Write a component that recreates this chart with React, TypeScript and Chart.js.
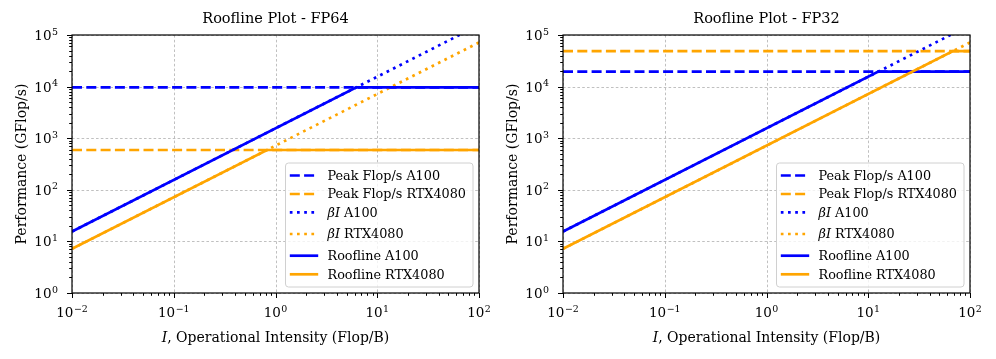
import React, { useEffect, useRef } from "react";
import { Chart, registerables } from "chart.js";
Chart.register(...registerables);

// ---- data ----
const devices = ["A100", "RTX4080"];
const deviceColors = ["#0000ff", "#ffa500"];
const bandwidthGBs = [1555, 716.8]; // beta, GB/s
const peakFP64 = [9700, 590]; // GFlop/s
const peakFP32 = [19500, 48700]; // GFlop/s
const intensityRange = [0.01, 100];
const perfRange = [1, 100000];
const xTickExps = [-2, -1, 0, 1, 2];
const yTickExps = [0, 1, 2, 3, 4, 5];
const panelTitles = ["Roofline Plot - FP64", "Roofline Plot - FP32"];

const FONT = "'DejaVu Serif', serif";
const FS_TITLE = 14.5;
const FS_LABEL = 14;
const FS_TICK = 13.5;
const FS_LEG = 12.8;
const LW = 2.7;
const DASH = [10, 4.3];
const DOT = [2.7, 4.5];

type Entry = { label: string; math: boolean; color: string; dash: number[] };

function buildDatasets(peaks: number[]) {
  const ds: any[] = [];
  const entries: Entry[] = [];
  const [x0, x1] = intensityRange;
  devices.forEach((d, i) => {
    ds.push({
      label: "Peak Flop/s " + d,
      data: [{ x: x0, y: peaks[i] }, { x: x1, y: peaks[i] }],
      borderColor: deviceColors[i],
      borderDash: DASH,
    });
    entries.push({ label: "Peak Flop/s " + d, math: false, color: deviceColors[i], dash: DASH });
  });
  devices.forEach((d, i) => {
    ds.push({
      label: "βI " + d,
      data: [{ x: x0, y: bandwidthGBs[i] * x0 }, { x: x1, y: bandwidthGBs[i] * x1 }],
      borderColor: deviceColors[i],
      borderDash: DOT,
    });
    entries.push({ label: d, math: true, color: deviceColors[i], dash: DOT });
  });
  devices.forEach((d, i) => {
    const ridge = peaks[i] / bandwidthGBs[i];
    ds.push({
      label: "Roofline " + d,
      data: [
        { x: x0, y: bandwidthGBs[i] * x0 },
        { x: ridge, y: peaks[i] },
        { x: x1, y: peaks[i] },
      ],
      borderColor: deviceColors[i],
      borderDash: [],
    });
    entries.push({ label: "Roofline " + d, math: false, color: deviceColors[i], dash: [] });
  });
  const n = ds.length;
  ds.forEach((d, k) => {
    d.order = n - k;
    d.borderWidth = LW;
    d.pointRadius = 0;
    d.fill = false;
    d.tension = 0;
    d.clip = 0;
    d.borderCapStyle = "butt";
  });
  return { ds, entries };
}

function drawPow(ctx: CanvasRenderingContext2D, exp: number, x: number, y: number, align: "right" | "center") {
  const base = "10";
  const sup = exp < 0 ? "\u2212" + Math.abs(exp) : String(exp);
  ctx.font = `${FS_TICK}px ${FONT}`;
  const wb = ctx.measureText(base).width;
  ctx.font = `${FS_TICK * 0.7}px ${FONT}`;
  const ws = ctx.measureText(sup).width;
  const total = wb + ws + 0.5;
  const start = align === "right" ? x - total : x - total / 2;
  ctx.textAlign = "left";
  ctx.textBaseline = "alphabetic";
  ctx.fillStyle = "#000";
  ctx.font = `${FS_TICK}px ${FONT}`;
  ctx.fillText(base, start, y);
  ctx.font = `${FS_TICK * 0.7}px ${FONT}`;
  ctx.fillText(sup, start + wb + 0.5, y - 5.5);
}

function makePlugin(title: string, entries: Entry[]) {
  return {
    id: "mplStyle",
    beforeDatasetsDraw(chart: any) {
      const { ctx, chartArea: a, scales } = chart;
      const xs = scales.x, ys = scales.y;
      ctx.save();
      ctx.strokeStyle = "#b0b0b0";
      ctx.lineWidth = 0.8;
      ctx.setLineDash([2.6, 2.2]);
      xTickExps.forEach((e) => {
        const px = Math.round(xs.getPixelForValue(Math.pow(10, e))) + 0.5;
        ctx.beginPath();
        ctx.moveTo(px, a.top);
        ctx.lineTo(px, a.bottom);
        ctx.stroke();
      });
      yTickExps.forEach((e) => {
        const py = Math.round(ys.getPixelForValue(Math.pow(10, e))) + 0.5;
        ctx.beginPath();
        ctx.moveTo(a.left, py);
        ctx.lineTo(a.right, py);
        ctx.stroke();
      });
      ctx.restore();
    },
    afterDatasetsDraw(chart: any) {
      const { ctx, chartArea: a, scales } = chart;
      const xs = scales.x, ys = scales.y;
      ctx.save();
      ctx.setLineDash([]);
      // ticks
      ctx.strokeStyle = "#000";
      ctx.lineWidth = 1;
      for (let e = xTickExps[0]; e <= xTickExps[xTickExps.length - 1]; e++) {
        for (let m = 1; m <= 9; m++) {
          const v = m * Math.pow(10, e);
          if (v < intensityRange[0] || v > intensityRange[1]) continue;
          const px = Math.round(xs.getPixelForValue(v)) + 0.5;
          const len = m === 1 ? 5 : 2.8;
          ctx.beginPath();
          ctx.moveTo(px, a.bottom);
          ctx.lineTo(px, a.bottom + len);
          ctx.stroke();
        }
      }
      for (let e = yTickExps[0]; e <= yTickExps[yTickExps.length - 1]; e++) {
        for (let m = 1; m <= 9; m++) {
          const v = m * Math.pow(10, e);
          if (v < perfRange[0] || v > perfRange[1]) continue;
          const py = Math.round(ys.getPixelForValue(v)) + 0.5;
          const len = m === 1 ? 5 : 2.8;
          ctx.beginPath();
          ctx.moveTo(a.left, py);
          ctx.lineTo(a.left - len, py);
          ctx.stroke();
        }
      }
      // spines
      ctx.lineWidth = 1.2;
      ctx.strokeRect(a.left, a.top, a.right - a.left, a.bottom - a.top);
      // tick labels
      xTickExps.forEach((e) => {
        const px = xs.getPixelForValue(Math.pow(10, e));
        drawPow(ctx, e, px, a.bottom + 24, "center");
      });
      yTickExps.forEach((e) => {
        const py = ys.getPixelForValue(Math.pow(10, e));
        drawPow(ctx, e, a.left - 14, py + 5, "right");
      });
      // title
      ctx.fillStyle = "#000";
      ctx.textAlign = "center";
      ctx.textBaseline = "alphabetic";
      ctx.font = `${FS_TITLE}px ${FONT}`;
      ctx.fillText(title, (a.left + a.right) / 2, 23);
      // x label
      const rest = ", Operational Intensity (Flop/B)";
      ctx.font = `italic ${FS_LABEL}px ${FONT}`;
      const wI = ctx.measureText("I").width;
      ctx.font = `${FS_LABEL}px ${FONT}`;
      const wR = ctx.measureText(rest).width;
      const sx = (a.left + a.right) / 2 - (wI + wR) / 2;
      ctx.textAlign = "left";
      ctx.font = `italic ${FS_LABEL}px ${FONT}`;
      ctx.fillText("I", sx, a.bottom + 49);
      ctx.font = `${FS_LABEL}px ${FONT}`;
      ctx.fillText(rest, sx + wI, a.bottom + 49);
      // y label
      ctx.save();
      ctx.translate(a.left - 46, (a.top + a.bottom) / 2);
      ctx.rotate(-Math.PI / 2);
      ctx.textAlign = "center";
      ctx.font = `${FS_LABEL}px ${FONT}`;
      ctx.fillText("Performance (GFlop/s)", 0, 0);
      ctx.restore();
      // legend
      let maxW = 0;
      entries.forEach((en) => {
        let w;
        if (en.math) {
          ctx.font = `italic ${FS_LEG}px ${FONT}`;
          w = ctx.measureText("βI").width;
          ctx.font = `${FS_LEG}px ${FONT}`;
          w += ctx.measureText(" " + en.label).width;
        } else {
          ctx.font = `${FS_LEG}px ${FONT}`;
          w = ctx.measureText(en.label).width;
        }
        maxW = Math.max(maxW, w);
      });
      const boxW = 42 + maxW + 7;
      const boxH = 124;
      const bx = a.right - 6 - boxW;
      const by = a.bottom - 6 - boxH;
      const r = 3;
      ctx.beginPath();
      ctx.moveTo(bx + r, by);
      ctx.lineTo(bx + boxW - r, by);
      ctx.quadraticCurveTo(bx + boxW, by, bx + boxW, by + r);
      ctx.lineTo(bx + boxW, by + boxH - r);
      ctx.quadraticCurveTo(bx + boxW, by + boxH, bx + boxW - r, by + boxH);
      ctx.lineTo(bx + r, by + boxH);
      ctx.quadraticCurveTo(bx, by + boxH, bx, by + boxH - r);
      ctx.lineTo(bx, by + r);
      ctx.quadraticCurveTo(bx, by, bx + r, by);
      ctx.closePath();
      ctx.fillStyle = "rgba(255,255,255,0.8)";
      ctx.fill();
      ctx.strokeStyle = "#d0d0d0";
      ctx.lineWidth = 1;
      ctx.stroke();
      const rowOffsets = [111.5, 93, 74.7, 53, 31.3, 12.7];
      entries.forEach((en, k) => {
        const ry = by + boxH - rowOffsets[k];
        ctx.strokeStyle = en.color;
        ctx.lineWidth = LW;
        ctx.lineCap = "butt";
        ctx.setLineDash(en.dash);
        ctx.beginPath();
        ctx.moveTo(bx + 4.3, ry);
        ctx.lineTo(bx + 32.7, ry);
        ctx.stroke();
        ctx.setLineDash([]);
        ctx.fillStyle = "#000";
        ctx.textAlign = "left";
        ctx.textBaseline = "middle";
        const tx = bx + 42;
        if (en.math) {
          ctx.font = `italic ${FS_LEG}px ${FONT}`;
          ctx.fillText("βI", tx, ry + 1);
          const w = ctx.measureText("βI").width;
          ctx.font = `${FS_LEG}px ${FONT}`;
          ctx.fillText(" " + en.label, tx + w, ry + 1);
        } else {
          ctx.font = `${FS_LEG}px ${FONT}`;
          ctx.fillText(en.label, tx, ry + 1);
        }
      });
      ctx.restore();
    },
  };
}

function Panel({ peaks, title, padL, padR, left }: { peaks: number[]; title: string; padL: number; padR: number; left: number }) {
  const ref = useRef<HTMLCanvasElement>(null);
  useEffect(() => {
    if (!ref.current) return;
    const { ds, entries } = buildDatasets(peaks);
    const chart = new Chart(ref.current, {
      type: "line",
      data: { datasets: ds },
      options: {
        animation: false,
        responsive: false,
        devicePixelRatio: 1,
        layout: { padding: { left: padL, right: padR, top: 35, bottom: 66 } },
        plugins: { legend: { display: false }, tooltip: { enabled: false }, title: { display: false } },
        scales: {
          x: { type: "logarithmic", min: intensityRange[0], max: intensityRange[1], display: false },
          y: { type: "logarithmic", min: perfRange[0], max: perfRange[1], display: false },
        },
      },
      plugins: [makePlugin(title, entries)],
    } as any);
    return () => chart.destroy();
  }, []);
  return (
    <canvas
      ref={ref}
      width={498}
      height={359}
      style={{ position: "absolute", left, top: 0, width: 498, height: 359, display: "block" }}
    />
  );
}

export default function App() {
  return (
    <div style={{ position: "fixed", left: 0, top: 0, width: 996, height: 359, background: "#fff" }}>
      <Panel peaks={peakFP64} title={panelTitles[0]} padL={72} padR={19} left={0} />
      <Panel peaks={peakFP32} title={panelTitles[1]} padL={65} padR={26} left={498} />
    </div>
  );
}
